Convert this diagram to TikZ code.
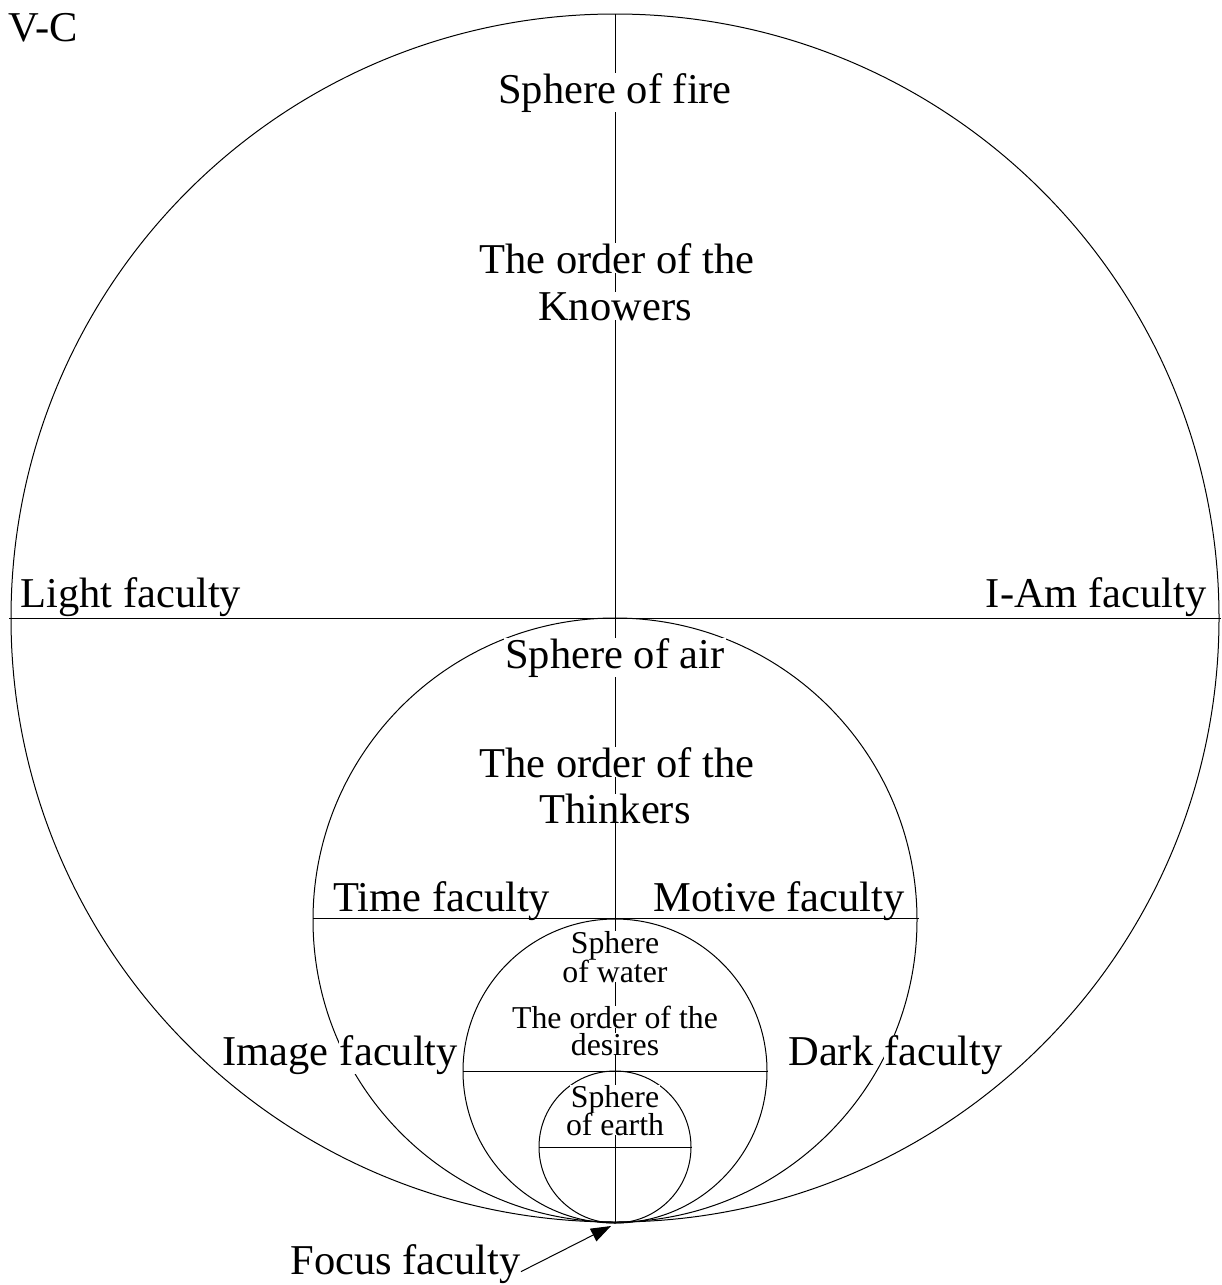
\documentclass[tikz,border=0pt]{standalone}
\usepackage{fontspec}
\setmainfont{Liberation Serif}
\usetikzlibrary{arrows.meta}
\begin{document}
\begin{tikzpicture}[x=0.5pt,y=-0.5pt,
  line/.style={draw=black,line width=0.5pt},
  big/.style={font=\fontsize{21.25}{23.5}\selectfont,inner sep=0pt,anchor=base},
  small/.style={font=\fontsize{15.9}{14}\selectfont,inner sep=0pt,anchor=base},
  halo/.style={fill=white,inner xsep=0.5pt}]
\useasboundingbox (0,0) rectangle (1221,1285);
% circles
\draw[line] (615,618) circle[radius=604];
\draw[line] (615,920) circle[radius=302];
\draw[line] (615,1071) circle[radius=152];
\draw[line] (615,1147) circle[radius=76];
% lines
\coordinate (vtop) at (615,14);
\coordinate (vbot) at (615,1222);
\draw[line] (vtop) -- (vbot);
\coordinate (h1l) at (9,618);
\coordinate (h1r) at (1221,618);
\draw[line] (h1l) -- (h1r);
\coordinate (h2l) at (313,918);
\coordinate (h2r) at (919,918);
\draw[line] (h2l) -- (h2r);
\coordinate (h3l) at (463,1071);
\coordinate (h3r) at (768,1071);
\draw[line] (h3l) -- (h3r);
\coordinate (h4l) at (539,1147);
\coordinate (h4r) at (692,1147);
\draw[line] (h4l) -- (h4r);
% texts
\node[big,anchor=base west] (vc) at (8,41) {V-C};
\node[big,halo] (fire) at (615,103) {Sphere of fire};
\node[big,halo] (know1) at (617,273) {The order of the};
\node[big,halo] (know2) at (615,320) {Knowers};
\node[big,anchor=base west] (light) at (20,607) {Light faculty};
\node[big,anchor=base east] (iam) at (1207,607) {I-Am faculty};
\node[big,halo] (air) at (615,668) {Sphere of air};
\node[big,halo] (think1) at (617,777) {The order of the};
\node[big,halo] (think2) at (615,823) {Thinkers};
\node[big,anchor=base west] (time) at (333,911) {Time faculty};
\node[big,anchor=base west] (motive) at (653,911) {Motive faculty};
\node[small,halo] (water1) at (615,953) {Sphere};
\node[small,halo] (water2) at (615,982) {of water};
\node[small,halo] (des1) at (615,1028) {The order of the};
\node[small,halo] (des2) at (615,1055) {desires};
\node[big,halo,anchor=base west] (image) at (221,1065) {Image};
\node[big,halo,anchor=base west,xshift=4.3pt] (imagef) at (image.base east) {faculty};
\node[big,halo,anchor=base west] (dark) at (787,1065) {Dark};
\node[big,halo,anchor=base west,xshift=4.3pt] (darkf) at (dark.base east) {faculty};
\node[small,halo] (earth1) at (615,1107) {Sphere};
\node[small,halo] (earth2) at (615,1135) {of earth};
\node[big,anchor=base west] (focus) at (290,1274) {Focus faculty};
\coordinate (focuspt) at (611,1226);
\draw[line,-{Triangle[length=10pt,width=7pt]}] (focus.east) ++(0,8) -- (focuspt);
\end{tikzpicture}
\end{document}
